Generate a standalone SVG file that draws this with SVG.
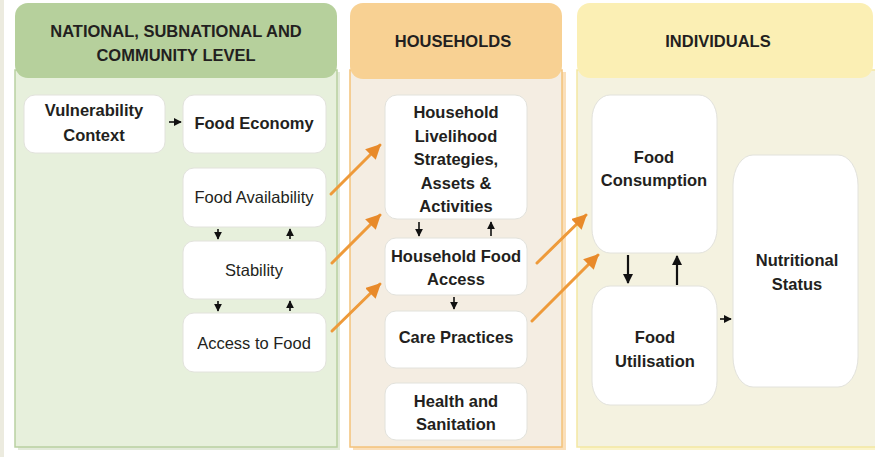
<svg xmlns="http://www.w3.org/2000/svg" width="875" height="457" viewBox="0 0 875 457">
<defs>
<style>
.t{font-family:"Liberation Sans",Arial,sans-serif;font-size:16.5px;fill:#231f20;text-anchor:middle}
.b{font-weight:bold}
.h{font-family:"Liberation Sans",Arial,sans-serif;font-size:16.5px;font-weight:bold;fill:#231f20;text-anchor:middle}
.node{fill:#ffffff;stroke:#e2e2dc;stroke-width:1}
.blk{stroke:#111;stroke-width:1.6;fill:none}
.blk2{stroke:#111;stroke-width:2.2;fill:none}
.org{stroke:#ee9a3a;stroke-width:3;fill:none;stroke-linecap:round}
</style>
<marker id="ah" viewBox="0 0 10 10" refX="9" refY="5" markerWidth="8" markerHeight="8" orient="auto" markerUnits="userSpaceOnUse">
<path d="M0,0 L10,5 L0,10 Z" fill="#111"/>
</marker>
<marker id="ah2" viewBox="0 0 10 10" refX="9" refY="5" markerWidth="10" markerHeight="10" orient="auto" markerUnits="userSpaceOnUse">
<path d="M0,0 L10,5 L0,10 Z" fill="#111"/>
</marker>
<marker id="oh" viewBox="0 0 10 10" refX="9" refY="5" markerWidth="15" markerHeight="15" orient="auto" markerUnits="userSpaceOnUse">
<path d="M0,0 L10,5 L0,10 Z" fill="#e88a2a"/>
</marker>
</defs>
<rect x="0" y="0" width="875" height="457" fill="#ffffff"/>
<rect x="0" y="0" width="4" height="457" fill="#ecebdf"/>

<g id="panel-national">
<rect x="18" y="72" width="322" height="378" fill="#cfdcbf" opacity="0.6"/>
<rect x="15" y="70" width="322" height="377" fill="#e7f0dc" stroke="#b9d1a1" stroke-width="1.5"/>
<rect x="15" y="3" width="322" height="75" rx="13" fill="#b6d09c"/>
<text class="h" x="176" y="37">NATIONAL, SUBNATIONAL AND</text>
<text class="h" x="176" y="61">COMMUNITY LEVEL</text>
</g>
<g id="panel-households">
<rect x="353" y="72" width="213" height="378" fill="#f6c98c" opacity="0.6"/>
<rect x="350" y="70" width="212" height="377" fill="#f4ede2" stroke="#f4c27a" stroke-width="1.5"/>
<rect x="350" y="3" width="212" height="76" rx="13" fill="#f8d193"/>
<text class="h" x="453" y="47">HOUSEHOLDS</text>
</g>
<g id="panel-individuals">
<rect x="580" y="72" width="300" height="378" fill="#f7eca8" opacity="0.6"/>
<rect x="577" y="70" width="300" height="377" fill="#f4f2e0" stroke="#f3e7a2" stroke-width="1.5"/>
<rect x="577" y="3" width="296" height="75" rx="13" fill="#fbefb4"/>
<text class="h" x="718" y="47">INDIVIDUALS</text>
</g>

<g id="node-vulnerability"><rect class="node" x="24" y="95" width="141" height="58" rx="11"/>
<text class="t b" x="94" y="116">Vulnerability</text><text class="t b" x="94" y="141">Context</text></g>
<g id="node-food-economy"><rect class="node" x="183" y="95" width="143" height="58" rx="11"/>
<text class="t b" x="254" y="129">Food Economy</text></g>
<g id="node-food-availability"><rect class="node" x="183" y="168" width="143" height="59" rx="11"/>
<text class="t" x="254" y="203">Food Availability</text></g>
<g id="node-stability"><rect class="node" x="183" y="241" width="143" height="58" rx="11"/>
<text class="t" x="254" y="276">Stability</text></g>
<g id="node-access-to-food"><rect class="node" x="183" y="313" width="143" height="59" rx="11"/>
<text class="t" x="254" y="349">Access to Food</text></g>

<g id="node-livelihood"><rect class="node" x="385" y="95" width="142" height="124" rx="12"/>
<text class="t b" x="456" y="118">Household</text><text class="t b" x="456" y="142">Livelihood</text><text class="t b" x="456" y="165">Strategies,</text><text class="t b" x="456" y="189">Assets &amp;</text><text class="t b" x="456" y="212">Activities</text></g>
<g id="node-hh-food-access"><rect class="node" x="385" y="238" width="142" height="57" rx="11"/>
<text class="t b" x="456" y="262">Household Food</text><text class="t b" x="456" y="285">Access</text></g>
<g id="node-care-practices"><rect class="node" x="385" y="311" width="142" height="57" rx="11"/>
<text class="t b" x="456" y="343">Care Practices</text></g>
<g id="node-health"><rect class="node" x="385" y="383" width="142" height="57" rx="11"/>
<text class="t b" x="456" y="407">Health and</text><text class="t b" x="456" y="430">Sanitation</text></g>

<g id="node-food-consumption"><rect class="node" x="592" y="95" width="125" height="158" rx="18" ry="24"/>
<text class="t b" x="654" y="163">Food</text><text class="t b" x="654" y="186">Consumption</text></g>
<g id="node-food-utilisation"><rect class="node" x="592" y="286" width="125" height="119" rx="18" ry="24"/>
<text class="t b" x="655" y="343">Food</text><text class="t b" x="655" y="367">Utilisation</text></g>
<g id="node-nutritional-status"><rect class="node" x="733" y="155" width="125" height="232" rx="20" ry="30"/>
<text class="t b" x="797" y="266">Nutritional</text><text class="t b" x="797" y="290">Status</text></g>

<g id="connectors">
<line class="blk" x1="169" y1="122" x2="181" y2="122" marker-end="url(#ah)"/>
<line class="blk" x1="218" y1="229" x2="218" y2="239" marker-end="url(#ah)"/>
<line class="blk" x1="290" y1="239" x2="290" y2="229" marker-end="url(#ah)"/>
<line class="blk" x1="218" y1="301" x2="218" y2="311" marker-end="url(#ah)"/>
<line class="blk" x1="290" y1="311" x2="290" y2="301" marker-end="url(#ah)"/>
<line class="blk" x1="419" y1="222" x2="419" y2="236" marker-end="url(#ah)"/>
<line class="blk" x1="491" y1="236" x2="491" y2="222" marker-end="url(#ah)"/>
<line class="blk" x1="454" y1="297" x2="454" y2="309" marker-end="url(#ah)"/>
<line class="blk2" x1="628" y1="255" x2="628" y2="283" marker-end="url(#ah2)"/>
<line class="blk2" x1="677" y1="285" x2="677" y2="256" marker-end="url(#ah2)"/>
<line class="blk" x1="720" y1="319" x2="731" y2="319" marker-end="url(#ah)"/>
<line class="org" x1="331" y1="194" x2="380" y2="145" marker-end="url(#oh)"/>
<line class="org" x1="332" y1="263" x2="380" y2="215" marker-end="url(#oh)"/>
<line class="org" x1="332" y1="331" x2="380" y2="284" marker-end="url(#oh)"/>
<line class="org" x1="537" y1="263" x2="586" y2="215" marker-end="url(#oh)"/>
<line class="org" x1="532" y1="321" x2="598" y2="255" marker-end="url(#oh)"/>
</g>
</svg>
